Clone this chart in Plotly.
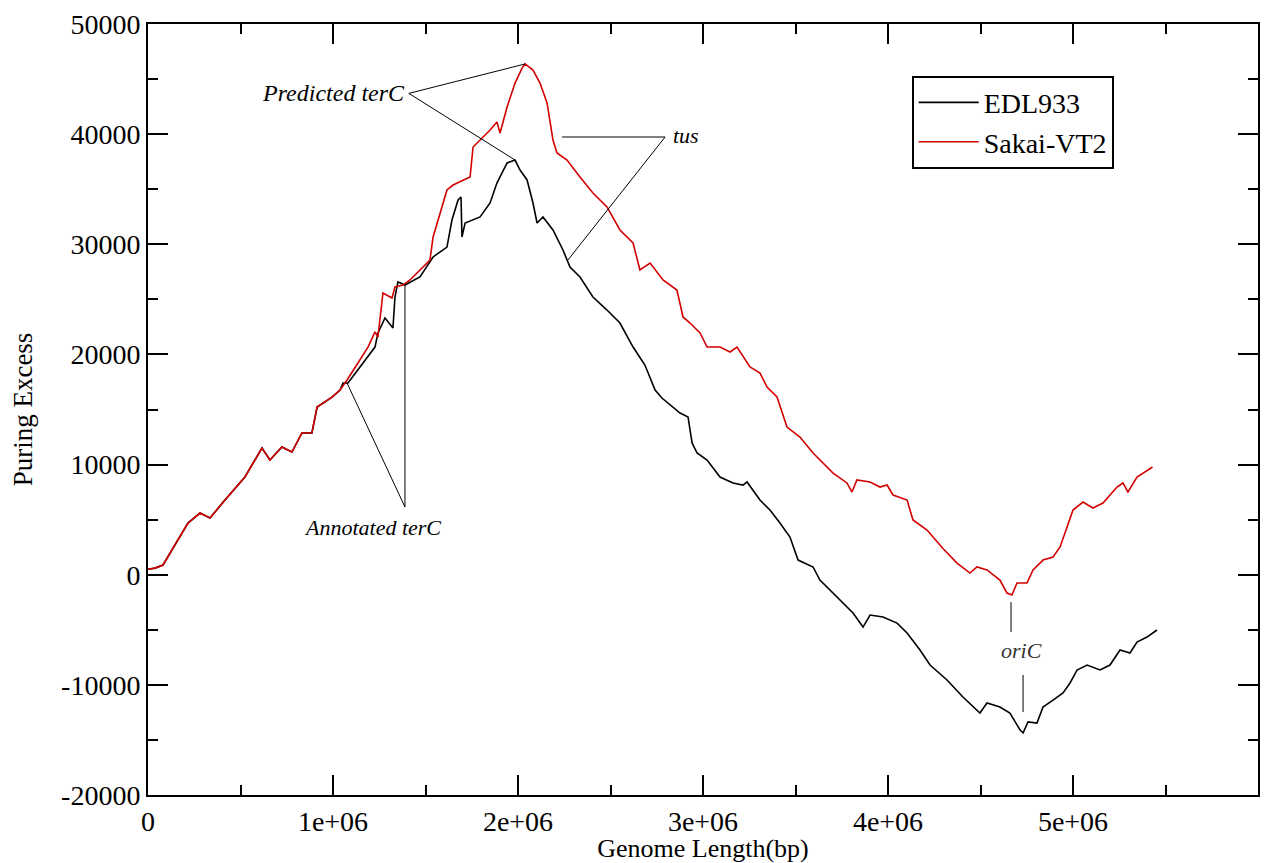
import numpy as np
import plotly.graph_objects as go

# ---------------- data (genome position in Mbp, purine excess) ----------------
sakai_pos_mb = [0.000, 0.038, 0.081, 0.216, 0.281, 0.335, 0.416, 0.524, 0.616, 0.659,
                0.724, 0.778, 0.832, 0.886, 0.914, 0.995, 1.038, 1.076, 1.135, 1.189,
                1.227, 1.243, 1.270, 1.319, 1.335, 1.378, 1.416, 1.486, 1.524, 1.541,
                1.578, 1.616, 1.649, 1.741, 1.757, 1.795, 1.849, 1.886, 1.903, 1.941,
                1.984, 2.022, 2.038, 2.081, 2.119, 2.157, 2.189, 2.211, 2.265, 2.335,
                2.405, 2.481, 2.551, 2.622, 2.659, 2.714, 2.784, 2.859, 2.892, 2.930,
                2.984, 3.022, 3.092, 3.146, 3.184, 3.254, 3.308, 3.346, 3.400, 3.454,
                3.524, 3.595, 3.649, 3.703, 3.778, 3.805, 3.832, 3.903, 3.957, 3.995,
                4.027, 4.103, 4.135, 4.211, 4.297, 4.373, 4.443, 4.481, 4.535, 4.605,
                4.643, 4.670, 4.697, 4.751, 4.784, 4.838, 4.892, 4.930, 4.968, 5.000,
                5.054, 5.108, 5.162, 5.238, 5.270, 5.297, 5.346, 5.430]
sakai_excess = [500, 600, 880, 4690, 5600, 5150, 6780, 8870, 11500, 10410,
                11590, 11140, 12870, 12870, 15230, 16130, 16770, 17680, 19220, 20670,
                22040, 21580, 25580, 25120, 26120, 26300, 26760, 27940, 28570, 30660,
                32840, 34930, 35380, 36110, 38830, 39470, 40380, 41100, 40100, 42460,
                44640, 46000, 46370, 45820, 44640, 42830, 39470, 38290, 37650, 36110,
                34660, 33390, 31300, 30120, 27670, 28300, 26760, 25850, 23400, 22850,
                21950, 20670, 20670, 20220, 20670, 18860, 18310, 17040, 16130, 13410,
                12500, 11050, 10140, 9230, 8330, 7510, 8600, 8420, 7960, 8140,
                7240, 6780, 4970, 4060, 2380, 1060, 150, 700, 430, -480,
                -1660, -1840, -750, -750, 430, 1330, 1610, 2520, 4330, 5870,
                6600, 6060, 6510, 7960, 8330, 7510, 8870, 9780]

edl_pos_mb = [0.000, 0.038, 0.081, 0.216, 0.281, 0.335, 0.416, 0.524, 0.616, 0.659,
              0.724, 0.778, 0.832, 0.886, 0.914, 0.995, 1.038, 1.054, 1.081, 1.135,
              1.227, 1.243, 1.281, 1.324, 1.335, 1.351, 1.389, 1.470, 1.541, 1.616,
              1.643, 1.676, 1.692, 1.697, 1.714, 1.795, 1.849, 1.886, 1.903, 1.941,
              1.984, 2.011, 2.049, 2.081, 2.103, 2.135, 2.189, 2.243, 2.281, 2.335,
              2.405, 2.481, 2.551, 2.622, 2.686, 2.741, 2.778, 2.822, 2.876, 2.919,
              2.941, 2.968, 3.022, 3.092, 3.162, 3.216, 3.238, 3.308, 3.362, 3.416,
              3.470, 3.514, 3.595, 3.632, 3.724, 3.811, 3.865, 3.903, 3.973, 4.049,
              4.103, 4.173, 4.227, 4.319, 4.405, 4.497, 4.535, 4.605, 4.659, 4.714,
              4.730, 4.757, 4.805, 4.838, 4.892, 4.946, 4.984, 5.022, 5.076, 5.146,
              5.200, 5.254, 5.308, 5.346, 5.400, 5.454]
edl_excess = [500, 600, 880, 4690, 5600, 5150, 6780, 8870, 11500, 10410,
              11590, 11140, 12870, 12870, 15230, 16130, 16770, 17400, 17400, 18590,
              20670, 21950, 23310, 22400, 25210, 26580, 26300, 27030, 28850, 29750,
              32200, 34020, 34290, 30660, 31930, 32480, 33750, 35560, 36110, 37380,
              37650, 36740, 35840, 33750, 31930, 32480, 31300, 29480, 27940, 27030,
              25210, 24030, 22850, 20670, 19040, 16770, 16040, 15410, 14680, 14320,
              11960, 11050, 10410, 8870, 8330, 8140, 8420, 6780, 5870, 4690,
              3420, 1330, 700, -480, -2030, -3480, -4750, -3660, -3840, -4390,
              -5290, -6840, -8200, -9560, -11100, -12560, -11650, -12010, -12560, -14100,
              -14370, -13370, -13470, -12010, -11380, -10740, -9830, -8650, -8200, -8650,
              -8200, -6840, -7110, -6110, -5660, -5020]

series_names = ["EDL933", "Sakai-VT2"]
series_colors = ["#000000", "#d20000"]

x_tick_vals = [0, 1e6, 2e6, 3e6, 4e6, 5e6, 6e6]
x_tick_text = ["0", "1e+06", "2e+06", "3e+06", "4e+06", "5e+06", "6e+06"]
y_tick_vals = [-20000, -10000, 0, 10000, 20000, 30000, 40000, 50000]
y_tick_text = ["-20000", "-10000", "0", "10000", "20000", "30000", "40000", "50000"]

# annotation anchor positions (bp, excess)
pred_text = (1.40e6, 43700)
tus_text = (2.91e6, 39900)
tus_h_start = (2.238e6, 39740)
tus_corner = (2.795e6, 39740)
tus_diag_end = (2.270e6, 28570)
ann_text = (1.216e6, 4300)
ann_diag_top = (1.076e6, 17400)
ann_corner = (1.389e6, 6150)
ann_vert_top = (1.389e6, 26300)
ori_text = (4.719e6, -6840)
ori_upper = (4.665e6, -2480, -5200)
ori_lower = (4.730e6, -9100, -12470)

# ---------------- figure ----------------
SERIF = "Liberation Serif"
edl_x = np.array(edl_pos_mb) * 1e6
sakai_x = np.array(sakai_pos_mb) * 1e6

fig = go.Figure()
fig.add_trace(go.Scatter(x=edl_x, y=edl_excess, mode="lines", name=series_names[0],
                         line=dict(color=series_colors[0], width=1.6)))
fig.add_trace(go.Scatter(x=sakai_x, y=sakai_excess, mode="lines", name=series_names[1],
                         line=dict(color=series_colors[1], width=1.6)))

# peaks for predicted terC
i_red = int(np.argmax(sakai_excess))
i_blk = int(np.argmax(edl_excess))

def seg(p0, p1):
    fig.add_shape(type="line", xref="x", yref="y", x0=p0[0], y0=p0[1], x1=p1[0], y1=p1[1],
                  line=dict(color="black", width=1))

pred_start = (pred_text[0] + 0.01e6, pred_text[1])
seg(pred_start, (sakai_x[i_red], sakai_excess[i_red]))
seg(pred_start, (edl_x[i_blk], edl_excess[i_blk]))
seg(tus_h_start, tus_corner)
seg(tus_corner, tus_diag_end)
seg(ann_diag_top, ann_corner)
seg(ann_corner, ann_vert_top)
seg((ori_upper[0], ori_upper[1]), (ori_upper[0], ori_upper[2]))
seg((ori_lower[0], ori_lower[1]), (ori_lower[0], ori_lower[2]))

afont = dict(family=SERIF, size=22, color="black")
fig.add_annotation(x=pred_text[0], y=pred_text[1], text="<i>Predicted terC</i>", showarrow=False,
                   xanchor="right", yanchor="middle", font=dict(family=SERIF, size=24, color="black"))
fig.add_annotation(x=tus_text[0], y=tus_text[1], text="<i>tus</i>", showarrow=False,
                   xanchor="center", yanchor="middle", font=afont)
fig.add_annotation(x=ann_text[0], y=ann_text[1], text="<i>Annotated terC</i>", showarrow=False,
                   xanchor="center", yanchor="middle", font=afont)
fig.add_annotation(x=ori_text[0], y=ori_text[1], text="<i>oriC</i>", showarrow=False,
                   xanchor="center", yanchor="middle", font=dict(family=SERIF, size=22, color="#333333"))

axis_common = dict(showgrid=False, zeroline=False, showline=True, linecolor="black", linewidth=2,
                   mirror="ticks", ticks="inside", ticklen=20, tickwidth=2, tickcolor="black",
                   tickfont=dict(family=SERIF, size=28, color="black"))

fig.update_xaxes(range=[0, 6e6], tickmode="array", tickvals=x_tick_vals, ticktext=x_tick_text,
                 minor=dict(tickmode="array", tickvals=[v + 5e5 for v in x_tick_vals[:-1]],
                            ticks="inside", ticklen=10, tickwidth=1.5, tickcolor="black"),
                 title=dict(text="Genome Length(bp)", font=dict(family=SERIF, size=26, color="black"),
                            standoff=12),
                 **axis_common)
fig.update_yaxes(range=[-20000, 50000], tickmode="array", tickvals=y_tick_vals, ticktext=y_tick_text,
                 minor=dict(tickmode="array", tickvals=[v + 5000 for v in y_tick_vals[:-1]],
                            ticks="inside", ticklen=10, tickwidth=1.5, tickcolor="black"),
                 title=dict(text="Puring Excess", font=dict(family=SERIF, size=27, color="black"),
                            standoff=24),
                 **axis_common)

# page body has an 8px margin: size the figure so the plot box lands where the reference has it
fig.update_layout(
    width=1278, height=855,
    margin=dict(l=140, r=28, t=16, b=68, autoexpand=False),
    paper_bgcolor="white", plot_bgcolor="white",
    showlegend=True,
    legend=dict(x=0.688, y=0.933, xanchor="left", yanchor="top",
                bordercolor="black", borderwidth=2, bgcolor="white",
                font=dict(family=SERIF, size=28, color="black"),
                itemwidth=60, tracegroupgap=0),
)

fig.write_html("out.html")
